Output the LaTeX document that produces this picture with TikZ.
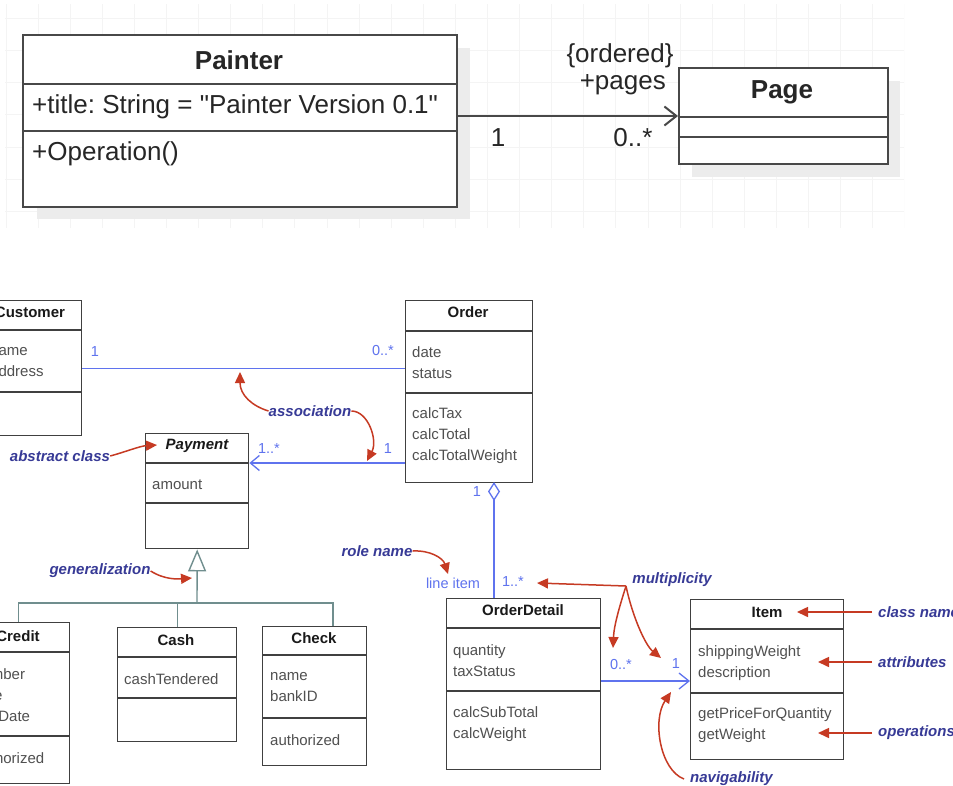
\documentclass[tikz,border=0pt]{standalone}
\usepackage{fontspec}
\setmainfont{Liberation Sans}
\newfontfamily\plainsans{Liberation Sans}
\usetikzlibrary{arrows.meta,positioning}
\frenchspacing

\definecolor{gridgray}{RGB}{244,244,244}
\definecolor{shadowgray}{RGB}{236,236,236}
\definecolor{boxgray}{RGB}{72,72,72}
\definecolor{textgray}{RGB}{80,80,80}
\definecolor{umlblue}{RGB}{95,115,238}
\definecolor{notered}{RGB}{198,58,35}
\definecolor{noteblue}{RGB}{55,58,150}
\definecolor{gengray}{RGB}{112,142,142}

\tikzset{
  gridline/.style={draw=gridgray, line width=1pt},
  bigbox/.style={draw=boxgray, line width=2pt, fill=white, anchor=north west, inner sep=0pt},
  bigline/.style={draw=boxgray, line width=2pt},
  bigtext/.style={font=\plainsans\fontsize{26}{30}\selectfont, text=black!85, inner sep=0pt},
  classbox/.style={draw=black!75, line width=1.4pt, fill=white, anchor=north west, inner sep=0pt},
  classline/.style={draw=black!75, line width=1.4pt},
  classname/.style={font=\fontsize{15}{18}\selectfont\bfseries, text=black!90, inner sep=0pt},
  members/.style={font=\fontsize{15}{21}\selectfont, text=textgray, align=left, anchor=west, inner sep=0pt},
  mult/.style={font=\fontsize{14.5}{17}\selectfont, text=umlblue, inner sep=0pt},
  assoc/.style={draw=umlblue, line width=1.3pt},
  genline/.style={draw=gengray, line width=1.4pt},
  note/.style={font=\fontsize{15}{18}\selectfont\bfseries\itshape, text=noteblue, inner sep=0pt},
  pointer/.style={draw=notered, line width=1.5pt, -{Triangle[length=11pt,width=10pt]}, fill=none},
}

\begin{document}
\begin{tikzpicture}[x=1pt,y=-1pt]
\useasboundingbox (0,0) rectangle (953,785);
\clip (0,0) rectangle (953,785);
\fill[white] (0,0) rectangle (953,785);

% ---- top panel: Painter and Page ----
\begin{scope}
\clip (5,4) rectangle (904,228);
\foreach \gx in {0,...,28} \draw[gridline] (6+32.1*\gx,4) -- (6+32.1*\gx,228);
\foreach \gy in {0,...,6} \draw[gridline] (5,18+32.3*\gy) -- (904,18+32.3*\gy);
\end{scope}

\fill[shadowgray] (37,48) rectangle (470,219);
\fill[shadowgray] (692,81) rectangle (900,177);

\node[bigbox, minimum width=434pt, minimum height=172pt] (painter) at (22,34) {};
\draw[bigline] (22,84) -- (456,84);
\draw[bigline] (22,131) -- (456,131);
\node[bigtext, font=\plainsans\fontsize{26}{30}\selectfont\bfseries] (paintername) at (239,60) {Painter};
\node[bigtext, anchor=west] (paintertitle) at (32,107) {+title: String = "Painter Version 0.1"};
\node[bigtext, anchor=west] (painterop) at (32,154) {+Operation()};

\node[bigbox, minimum width=209pt, minimum height=96pt] (page) at (678,67) {};
\draw[bigline] (678,117) -- (887,117);
\draw[bigline] (678,137) -- (887,137);
\node[bigtext, font=\plainsans\fontsize{26}{30}\selectfont\bfseries] (pagename) at (782,92) {Page};

\draw[bigline, -{Straight Barb[length=12pt,width=19pt]}] (painter.east |- page.west) -- (page.west);
\node[bigtext] (ordered) at (620,56) {\{ordered\}};
\node[bigtext, anchor=east] (pages) at (666,85) {+pages};
\node[bigtext] (paintermult) at (498,138) {1};
\node[bigtext] (pagemult) at (633,138) {0..*};

% ---- bottom panel: order model ----
\node[classbox, minimum width=101pt, minimum height=135pt] (customer) at (-20,300) {};
\draw[classline] (-20,330) -- (81,330);
\draw[classline] (-20,392) -- (81,392);
\node[classname] (customername) at (30,312) {Customer};
\node[members] (customerattr) at (-10,362) {name\\address};

\node[classbox, minimum width=127pt, minimum height=182pt] (order) at (405,300) {};
\draw[classline] (405,331) -- (532,331);
\draw[classline] (405,393) -- (532,393);
\node[classname] (ordername) at (468,312) {Order};
\node[members] (orderattr) at (412,363) {date\\status};
\node[members] (orderops) at (412,436) {calcTax\\calcTotal\\calcTotalWeight};

\node[classbox, minimum width=103pt, minimum height=115pt] (payment) at (145,433) {};
\draw[classline] (145,463) -- (248,463);
\draw[classline] (145,503) -- (248,503);
\node[classname, font=\fontsize{15}{18}\selectfont\bfseries\itshape] (paymentname) at (197,446) {Payment};
\node[members] (paymentattr) at (152,485) {amount};

\node[classbox, minimum width=102pt, minimum height=161pt] (credit) at (-33,622) {};
\draw[classline] (-33,652) -- (69,652);
\draw[classline] (-33,736) -- (69,736);
\node[classname] (creditname) at (18,636) {Credit};
\node[members] (creditattr) at (-26,697) {number\\type\\expDate};
\node[members] (creditops) at (-26,758) {authorized};

\node[classbox, minimum width=119pt, minimum height=114pt] (cash) at (117,627) {};
\draw[classline] (117,657) -- (236,657);
\draw[classline] (117,698) -- (236,698);
\node[classname] (cashname) at (176,640) {Cash};
\node[members] (cashattr) at (124,679) {cashTendered};

\node[classbox, minimum width=104pt, minimum height=139pt] (check) at (262,626) {};
\draw[classline] (262,655) -- (366,655);
\draw[classline] (262,718) -- (366,718);
\node[classname] (checkname) at (314,638) {Check};
\node[members] (checkattr) at (270,687) {name\\bankID};
\node[members] (checkops) at (270,740) {authorized};

\node[classbox, minimum width=154pt, minimum height=171pt] (orderdetail) at (446,598) {};
\draw[classline] (446,628) -- (600,628);
\draw[classline] (446,691) -- (600,691);
\node[classname] (orderdetailname) at (523,610) {OrderDetail};
\node[members] (orderdetailattr) at (453,661) {quantity\\taxStatus};
\node[members] (orderdetailops) at (453,724) {calcSubTotal\\calcWeight};

\node[classbox, minimum width=153pt, minimum height=160pt] (item) at (690,599) {};
\draw[classline] (690,629) -- (843,629);
\draw[classline] (690,693) -- (843,693);
\node[classname] (itemname) at (767,612) {Item};
\node[members] (itemattr) at (698,663) {shippingWeight\\description};
\node[members] (itemops) at (698,725) {getPriceForQuantity\\getWeight};

% connectors
\coordinate (payin) at ([yshift=-30pt]payment.north east);
\coordinate (aggtop) at (494,482);
\coordinate (genbus) at (197,603);
\coordinate (checktop) at (333,626);
\coordinate (itemin) at (690,681);

\draw[assoc] (customer.east) -- (order.west |- customer.east);
\draw[assoc, -{Straight Barb[length=9pt,width=15pt]}] (order.west |- payin) -- (payin);
\draw[assoc, -{Diamond[open,length=19pt,width=12pt]}] (aggtop |- orderdetail.north) -- (aggtop);
\draw[assoc, -{Straight Barb[length=10pt,width=16pt]}] (orderdetail.east |- itemin) -- (itemin);
\draw[genline, -{Triangle[open,length=22pt,width=18pt]}] (genbus) -- (payment.south);
\draw[genline] (credit.north) |- (genbus) -| (checktop);
\draw[genline] (cash.north) -- (cash.north |- genbus);

\node[mult] (custmult) at (95,352) {1};
\node[mult] (ordmult) at (383,351) {0..*};
\node[mult] (paymult) at (269,449) {1..*};
\node[mult] (ordpaymult) at (388,449) {1};
\node[mult] (aggmult) at (477,492) {1};
\node[mult] (role) at (453,583) {line item};
\node[mult] (detailmult) at (513,582) {1..*};
\node[mult] (linemult) at (621,664) {0..*};
\node[mult] (itemmult) at (676,664) {1};

% notes
\node[note] (assocnote) at (310,411) {association};
\node[note] (abstractnote) at (60,456) {abstract class};
\node[note] (gennote) at (100,571) {generalization};
\node[note] (rolenote) at (377,551) {role name};
\node[note] (multnote) at (672,580) {multiplicity};
\node[note, anchor=west] (classnote) at (878,612) {class name};
\node[note, anchor=west] (attrnote) at (878,662) {attributes};
\node[note, anchor=west] (opsnote) at (878,733) {operations};
\node[note, anchor=west] (navnote) at (690,779) {navigability};
\coordinate (multsrc) at (626,586);

\draw[pointer] (assocnote.west) .. controls (252,406) and (240,395) .. (240,372);
\draw[pointer] (assocnote.east) .. controls (368,411) and (378,440) .. (367,461);
\draw[pointer] (abstractnote.east) .. controls (125,452) and (140,446) .. (157,445);
\draw[pointer] (gennote.east) .. controls (165,580) and (178,579) .. (192,578);
\draw[pointer] (rolenote.east) .. controls (430,550) and (443,558) .. (448,574);
\draw[pointer] (multsrc) -- (537,583);
\draw[pointer] (multsrc) .. controls (620,605) and (614,625) .. (613,648);
\draw[pointer] (multsrc) .. controls (632,615) and (645,645) .. (661,658);
\draw[pointer] ([xshift=-6pt]classnote.west) -- (797,612);
\draw[pointer] ([xshift=-6pt]attrnote.west) -- (818,662);
\draw[pointer] ([xshift=-6pt]opsnote.west) -- (818,733);
\draw[pointer] ([xshift=-6pt]navnote.west) .. controls (660,770) and (652,720) .. (671,692);
\end{tikzpicture}
\end{document}
